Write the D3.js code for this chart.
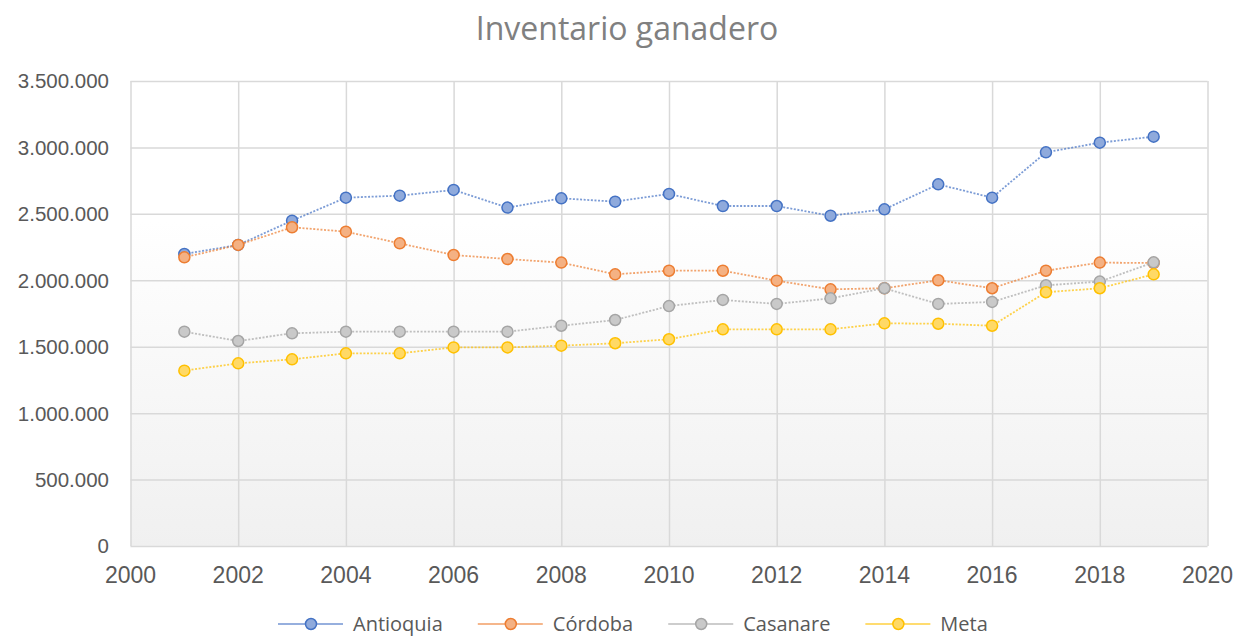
<!doctype html>
<html lang="es">
  <head>
    <meta charset="utf-8">
    <title>Inventario ganadero</title>
    <style>
      body { margin: 0; background: #fff; }
      .tick-label { font-family: "Liberation Sans Narrow", "Liberation Sans", sans-serif; fill: #595959; }
      .title { font-family: "Open Sans", sans-serif; font-size: 32px; fill: #808080; }
      .legend-label { font-family: "Open Sans", sans-serif; font-size: 20px; fill: #595959; }
    </style>
  </head>
  <body>
    <div id="chart"></div>

    <script src="https://cdn.jsdelivr.net/npm/d3@7"></script>
    <script>
      // data
      const years = [2001, 2002, 2003, 2004, 2005, 2006, 2007, 2008, 2009, 2010,
                     2011, 2012, 2013, 2014, 2015, 2016, 2017, 2018, 2019];
      const antioquia = [2198000, 2266000, 2449000, 2622000, 2637000, 2680000, 2547000, 2617000, 2592000, 2650000,
                         2559000, 2559000, 2486000, 2534000, 2722000, 2622000, 2963000, 3036000, 3081000];
      const cordoba = [2173000, 2266000, 2399000, 2366000, 2278000, 2190000, 2160000, 2133000, 2045000, 2072000,
                       2072000, 1997000, 1932000, 1940000, 2000000, 1940000, 2072000, 2133000, 2130000];
      const casanare = [1613000, 1543000, 1601000, 1613000, 1613000, 1613000, 1613000, 1658000, 1701000, 1806000,
                        1852000, 1822000, 1864000, 1940000, 1822000, 1837000, 1962000, 1990000, 2135000];
      const meta = [1320000, 1375000, 1405000, 1450000, 1450000, 1495000, 1495000, 1508000, 1526000, 1556000,
                    1631000, 1631000, 1631000, 1676000, 1673000, 1658000, 1910000, 1940000, 2045000];
      const seriesNames = ["Antioquia", "Córdoba", "Casanare", "Meta"];
      const xTicks = [2000, 2002, 2004, 2006, 2008, 2010, 2012, 2014, 2016, 2018, 2020];
      const yTicks = [0, 500000, 1000000, 1500000, 2000000, 2500000, 3000000, 3500000];

      const series = [
        { name: seriesNames[0], values: antioquia, stroke: "#4472c4", fill: "#8faadc" },
        { name: seriesNames[1], values: cordoba,   stroke: "#ed7d31", fill: "#f4b183" },
        { name: seriesNames[2], values: casanare,  stroke: "#a5a5a5", fill: "#c9c9c9" },
        { name: seriesNames[3], values: meta,      stroke: "#ffc000", fill: "#ffd966" }
      ];

      const width = 1233, height = 636;
      const plot = { left: 130.5, right: 1207.5, top: 81, bottom: 546 };

      const svg = d3.select("#chart").append("svg")
        .attr("width", width)
        .attr("height", height);

      // plot area gradient (white on top, light grey at the bottom)
      const grad = svg.append("defs").append("linearGradient")
        .attr("id", "bg").attr("x1", 0).attr("y1", 0).attr("x2", 0).attr("y2", 1);
      grad.append("stop").attr("offset", "0%").attr("stop-color", "#ffffff");
      grad.append("stop").attr("offset", "30%").attr("stop-color", "#ffffff");
      grad.append("stop").attr("offset", "100%").attr("stop-color", "#f0f0f0");

      const x = d3.scaleLinear().domain([2000, 2020]).range([plot.left, plot.right]);
      const y = d3.scaleLinear().domain([0, 3500000]).range([plot.bottom, plot.top]);

      const es = d3.formatLocale({ decimal: ",", thousands: ".", grouping: [3], currency: ["", ""] });
      const fmt = es.format(",d");

      svg.append("rect")
        .attr("x", plot.left).attr("y", plot.top)
        .attr("width", plot.right - plot.left).attr("height", plot.bottom - plot.top)
        .attr("fill", "url(#bg)");

      // gridlines
      svg.append("g")
        .attr("transform", "translate(0," + plot.bottom + ")")
        .call(d3.axisBottom(x).tickValues(xTicks).tickSize(-(plot.bottom - plot.top)).tickFormat(""))
        .call(g => g.select(".domain").remove())
        .call(g => g.selectAll("line").attr("stroke", "#d9d9d9").attr("stroke-width", 1.5));

      svg.append("g")
        .attr("transform", "translate(" + plot.left + ",0)")
        .call(d3.axisLeft(y).tickValues(yTicks).tickSize(-(plot.right - plot.left)).tickFormat(""))
        .call(g => g.select(".domain").remove())
        .call(g => g.selectAll("line").attr("stroke", "#d9d9d9").attr("stroke-width", 1.5));

      // tick labels
      svg.append("g").selectAll("text")
        .data(yTicks)
        .join("text")
        .attr("class", "tick-label")
        .attr("x", 109)
        .attr("y", d => y(d))
        .attr("dy", "0.36em")
        .attr("text-anchor", "end")
        .attr("font-size", 20.5)
        .text(d => fmt(d));

      svg.append("g").selectAll("text")
        .data(xTicks)
        .join("text")
        .attr("class", "tick-label")
        .attr("x", d => x(d))
        .attr("y", 575)
        .attr("dy", "0.36em")
        .attr("text-anchor", "middle")
        .attr("font-size", 23)
        .text(d => d);

      // lines + markers
      const line = d3.line()
        .x((d, i) => x(years[i]))
        .y(d => y(d));

      series.forEach(s => {
        svg.append("path")
          .datum(s.values)
          .attr("d", line)
          .attr("fill", "none")
          .attr("stroke", s.stroke)
          .attr("stroke-opacity", 0.7)
          .attr("stroke-width", 1.8)
          .attr("stroke-dasharray", "2,1.6");

        svg.append("g").selectAll("circle")
          .data(s.values)
          .join("circle")
          .attr("cx", (d, i) => x(years[i]))
          .attr("cy", d => y(d))
          .attr("r", 5.5)
          .attr("fill", s.fill)
          .attr("stroke", s.stroke)
          .attr("stroke-width", 1.5);
      });

      // title
      svg.append("text")
        .attr("class", "title")
        .attr("x", 627)
        .attr("y", 40)
        .attr("text-anchor", "middle")
        .text("Inventario ganadero");

      // legend
      const legend = svg.append("g");
      let lx = 278;
      const ly = 624;
      series.forEach(s => {
        const item = legend.append("g").attr("transform", "translate(" + lx + "," + ly + ")");
        item.append("line")
          .attr("x1", 0).attr("x2", 65).attr("y1", 0).attr("y2", 0)
          .attr("stroke", s.stroke).attr("stroke-opacity", 0.75).attr("stroke-width", 1.5);
        item.append("circle")
          .attr("cx", 33).attr("cy", 0).attr("r", 5.5)
          .attr("fill", s.fill).attr("stroke", s.stroke).attr("stroke-width", 1.5);
        const t = item.append("text")
          .attr("class", "legend-label")
          .attr("x", 75)
          .attr("y", 0)
          .attr("dy", "0.36em")
          .text(s.name);
        lx += 75 + t.node().getComputedTextLength() + 35;
      });
    </script>
  </body>
</html>
